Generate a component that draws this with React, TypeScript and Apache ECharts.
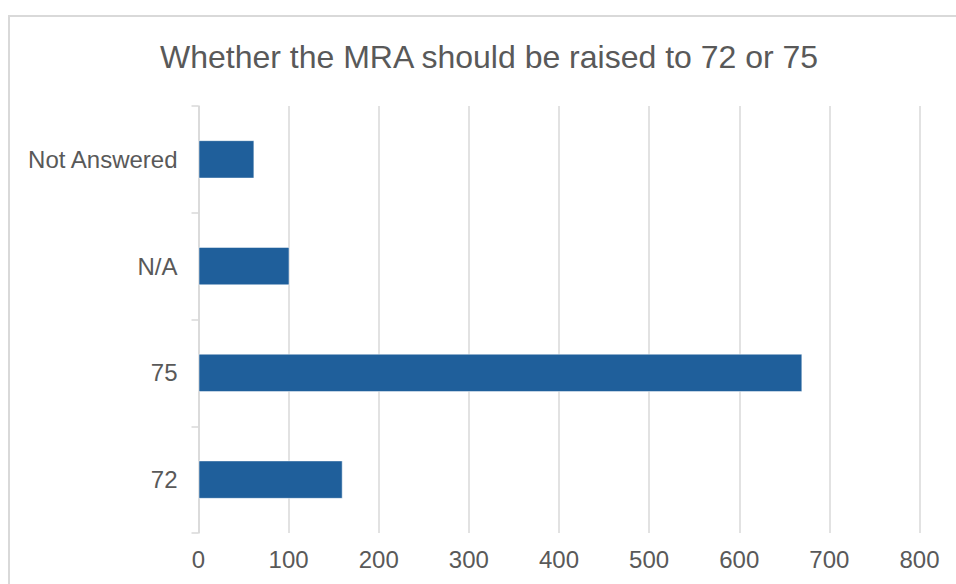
import React, { useEffect, useRef } from "react";
import * as echarts from "echarts";

const titleText = "Whether the MRA should be raised to 72 or 75";
const categories = ["72", "75", "N/A", "Not Answered"];
const counts = [160, 670, 101, 62];
const xMin = 0;
const xMax = 800;
const xInterval = 100;

export default function App() {
  const ref = useRef<HTMLDivElement>(null);
  useEffect(() => {
    if (!ref.current) return;
    const chart = echarts.init(ref.current, null, { renderer: "svg" });
    const textColor = "#595959";
    const gridColor = "#d9d9d9";
    chart.setOption({
      animation: false,
      backgroundColor: "#ffffff",
      textStyle: { fontFamily: "Liberation Sans, Arial, sans-serif" },
      title: {
        text: titleText,
        left: 155,
        top: 36,
        textStyle: {
          color: textColor,
          fontSize: 32,
          fontWeight: "normal",
          fontFamily: "Liberation Sans, Arial, sans-serif",
        },
      },
      graphic: [
        {
          type: "rect",
          shape: { x: 9, y: 16, width: 1200, height: 1200 },
          style: { fill: "none", stroke: gridColor, lineWidth: 2 },
          silent: true,
          z: -1,
        },
      ],
      grid: { left: 198.5, right: 36.5, top: 106, bottom: 51, containLabel: false },
      xAxis: {
        type: "value",
        min: xMin,
        max: xMax,
        interval: xInterval,
        axisLine: { show: false },
        axisTick: { show: false },
        axisLabel: {
          color: textColor,
          fontSize: 24,
          margin: 14,
          fontFamily: "Liberation Sans, Arial, sans-serif",
        },
        splitLine: { show: true, lineStyle: { color: gridColor, width: 1.5 } },
      },
      yAxis: {
        type: "category",
        data: categories,
        axisLine: { show: true, lineStyle: { color: gridColor, width: 1.5 } },
        axisTick: { show: true, length: 7, lineStyle: { color: gridColor, width: 1.5 } },
        axisLabel: {
          color: textColor,
          fontSize: 24,
          margin: 21,
          fontFamily: "Liberation Sans, Arial, sans-serif",
        },
        splitLine: { show: false },
      },
      series: [
        {
          type: "bar",
          data: counts,
          barWidth: "36%",
          itemStyle: {
            color: "#1f5f9b",
            borderColor: "rgba(255,255,255,0.5)",
            borderWidth: 1,
          },
        },
      ],
    });
    return () => chart.dispose();
  }, []);
  return (
    <div
      ref={ref}
      style={{ position: "absolute", left: 0, top: 0, width: 956, height: 584 }}
    />
  );
}
